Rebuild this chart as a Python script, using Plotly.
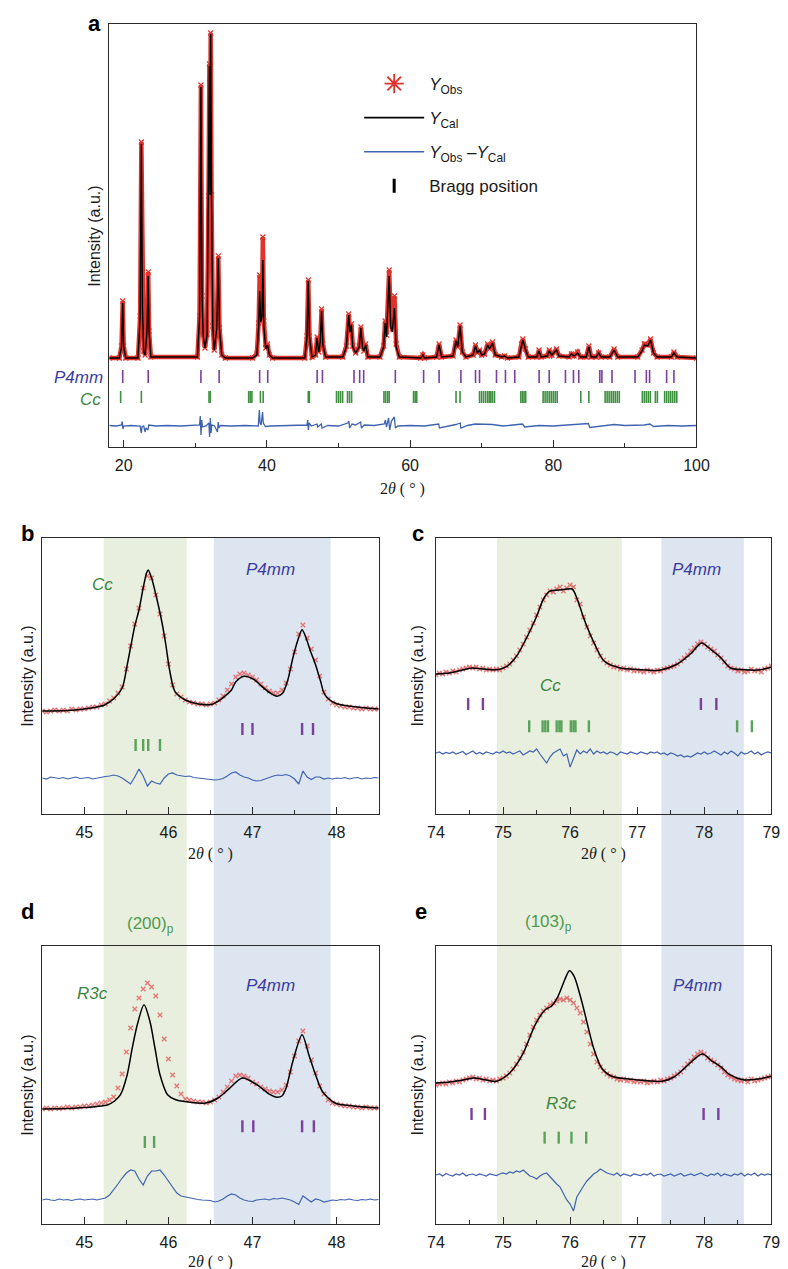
import plotly.graph_objects as go

W, H = 788, 1269
def fx(px): return px / W
def fy(py): return 1 - py / H

RED = '#e0332c'
OBS_B = 'rgba(228,88,88,0.8)'
BLUE = '#3f63b0'
PURPLE = '#7b3f9e'
GREEN = '#3f9040'
GREEN_T = '#5aa35a'
TXT_BLUE = '#3b3b9f'
TXT_GREEN = '#3c853c'
BAND_G = '#e9efdf'
BAND_B = '#dde5f0'
FONT = 'Liberation Sans, Arial, sans-serif'
SERIF = 'Liberation Serif, Times New Roman, serif'

# ---------------- panel a ----------------
a_x = [18.0, 19.4, 19.7, 19.87, 20.0, 20.3, 22.0, 22.3, 22.47, 22.62, 22.8, 23.0, 23.25, 23.43, 23.55, 23.8,
       30.3, 30.6, 30.79, 30.95, 31.1, 31.35, 31.65, 31.85, 31.97, 32.06, 32.15, 32.27, 32.45, 32.65, 33.0,
       33.22, 33.38, 33.7, 34.2, 38.0, 38.6, 38.85, 38.99, 39.15, 39.32, 39.44, 39.58, 39.85, 40.1, 40.35,
       40.8, 45.3, 45.6, 45.78, 45.95, 46.3, 46.8, 47.02, 47.25, 47.45, 47.64, 47.82, 48.2, 50.6, 51.1,
       51.43, 51.6, 51.8, 52.0, 52.4, 52.9, 53.13, 53.35, 53.55, 53.8, 54.1, 55.8, 56.3, 56.52, 56.7, 57.08,
       57.3, 57.5, 57.82, 58.05, 58.5, 61.5, 61.78, 62.0, 63.7, 64.05, 64.4, 66.0, 66.42, 66.65, 66.98, 67.3,
       67.8, 68.8, 69.14, 69.4, 69.7, 70.0, 70.4, 70.83, 71.1, 71.51, 71.9, 72.8, 73.2, 73.6, 75.2, 75.55,
       75.75, 76.1, 76.5, 77.7, 78.01, 78.3, 79.15, 79.43, 79.8, 80.45, 80.8, 82.2, 82.54, 82.9, 83.4, 83.8,
       84.6, 84.97, 85.3, 86.0, 86.33, 86.7, 87.9, 88.49, 89.0, 91.8, 92.4, 92.73, 93.2, 93.58, 94.0, 94.5,
       96.5, 96.85, 97.3, 100.0]
a_calc = [89, 89, 100, 144, 100, 89, 89, 130, 303, 140, 95, 92, 115, 171, 115, 90,
          90, 130, 360, 150, 112, 99, 112, 250, 381, 252, 413, 250, 120, 97, 118,
          189, 118, 92, 89, 89, 92, 120, 156, 125, 130, 187, 120, 98, 102, 92,
          89, 89, 110, 166, 110, 90, 92, 109, 95, 105, 136, 102, 90, 90, 100,
          132, 115, 122, 100, 94, 100, 119, 100, 96, 102, 90, 90, 100, 124, 110, 171,
          120, 115, 139, 100, 90, 89, 92, 89, 90, 102, 90, 91, 106, 100, 121, 95,
          90, 92, 101, 94, 97, 92, 93, 102, 98, 104, 92, 90, 91, 89, 90, 102,
          107, 98, 90, 90, 96, 90, 91, 96, 92, 97, 91, 90, 93, 91, 94, 90,
          90, 100, 90, 90, 94, 90, 90, 97, 90, 90, 96, 102, 101, 107, 94, 90,
          90, 94, 90, 89]
a_obs = [89, 89, 101, 146, 101, 89, 89, 131, 305, 142, 96, 92, 116, 175, 116, 90,
         90, 131, 362, 151, 113, 99, 113, 251, 383, 253, 414, 252, 121, 97, 119,
         191, 119, 92, 89, 89, 93, 124, 172, 130, 140, 210, 126, 99, 103, 92,
         89, 89, 111, 167, 111, 90, 92, 110, 95, 106, 138, 103, 90, 90, 101,
         133, 116, 123, 101, 94, 101, 120, 101, 96, 103, 90, 90, 101, 126, 112, 177,
         126, 118, 151, 103, 90, 89, 92, 89, 90, 103, 90, 91, 107, 100, 122, 95,
         90, 92, 102, 94, 97, 92, 93, 103, 98, 105, 92, 90, 91, 89, 90, 103,
         108, 98, 90, 90, 97, 90, 91, 97, 92, 98, 91, 90, 93, 91, 95, 90,
         90, 101, 90, 90, 94, 90, 90, 98, 90, 90, 97, 103, 102, 108, 94, 90,
         90, 95, 90, 89]
a_diff_x = [18.0, 19.0, 19.7, 19.8, 19.9, 20.0, 21.0, 22.3, 22.4, 22.47, 22.55, 22.8, 23.0, 23.1, 23.4, 23.5,
            24.5, 26.0, 28.0, 30.0, 30.6, 30.7, 30.8, 30.9, 31.0, 31.5, 31.9, 32.0, 32.1, 32.2, 32.3, 32.7,
            33.1, 33.2, 33.3, 33.5, 35.0, 37.0, 38.8, 38.95, 39.05, 39.2, 39.4, 39.5, 39.8, 40.5, 43.0, 45.6,
            45.7, 45.8, 45.9, 46.2, 47.0, 47.1, 47.6, 47.7, 48.5, 50.0, 51.3, 51.45, 51.55, 51.9, 52.4, 53.1,
            53.2, 53.6, 55.0, 56.4, 56.55, 56.7, 57.0, 57.15, 57.4, 57.8, 57.95, 58.3, 60.0, 62.0, 64.0, 64.1,
            66.4, 67.0, 67.1, 68.0, 69.1, 71.5, 73.0, 75.7, 76.0, 78.0, 80.0, 82.0, 84.9, 85.1, 86.5, 88.5,
            90.0, 92.7, 93.5, 94.0, 96.0, 98.0, 100.0]
a_diff = [21.5, 21, 22, 25.5, 18, 21, 21.5, 21, 16, 14, 20, 21, 15, 19, 17, 22,
          21, 21.5, 21, 21.5, 22, 31, 12, 27, 20, 21, 24, 10, 29, 14, 22, 21,
          15, 25, 19, 21.5, 21, 21.5, 21, 37, 24, 22, 35, 24, 20.5, 21, 21.5, 22,
          27, 17, 24, 21, 23, 20, 23, 19, 21.5, 21, 24, 26, 19, 23, 22, 25,
          19, 22, 21.5, 23, 27, 20, 29, 17, 26, 30, 19, 21, 21.5, 21, 23, 19,
          22.5, 24, 19, 21.5, 23, 22.5, 21, 23, 20, 21.5, 21, 22, 23.5, 19.5, 21, 22.5,
          21.5, 22, 23, 20.5, 21.5, 21, 21.5]
a_p4mm = [19.87, 23.43, 30.79, 33.33, 38.99, 40.12, 47.02, 47.76, 52.17, 52.96, 53.52, 57.94, 61.89,
          64.05, 67.1, 69.14, 69.7, 72.07, 73.32, 74.62, 78.02, 79.43, 81.7, 82.82, 83.56, 86.5, 86.79,
          88.2, 91.42, 93.0, 93.45, 95.83, 96.85]
a_cc = [19.58, 22.47, 31.92, 32.09, 37.46, 37.68, 37.91, 39.1, 39.49, 45.78, 45.94, 49.73, 50.01, 50.29,
        50.58, 51.26, 51.54, 51.83, 56.35, 56.58, 56.86, 57.08, 60.48, 60.71, 60.93, 66.42, 66.98, 69.7,
        69.98, 70.26, 70.55, 70.83, 71.06, 71.28, 71.51, 71.79, 75.47, 75.7, 75.92, 76.15, 78.58, 78.86,
        79.14, 79.43, 79.71, 79.99, 80.27, 80.55, 83.84, 84.97, 87.24, 87.52, 87.8, 88.09, 88.37, 88.65,
        88.94, 89.22, 92.44, 92.72, 93.0, 93.28, 93.56, 94.26, 94.54, 95.55, 95.83, 96.12, 96.4, 96.68,
        96.97, 97.25]
a_p4mm_level, a_cc_level = 70.5, 50

# ---------------- panel b ----------------
b_scan_start, b_scan_step = 44.5, 0.05
b_obs = [103, 102, 103, 104, 103, 104, 103, 105, 104, 105, 105, 106, 107, 107, 109, 110, 113, 116, 121,
         127, 145, 168, 190, 206, 226, 238, 236, 219, 200, 178, 150, 129, 120, 117, 114, 112, 111, 110,
         110, 109, 110, 111, 114, 118, 124, 130, 137, 140, 141, 139, 137, 134, 130, 126, 123, 121, 121,
         124, 131, 145, 162, 180, 189, 176, 165, 154, 138, 122, 115, 111, 109, 108, 107, 107, 106, 106,
         105, 106, 105, 105, 105]
b_calc_x = [44.5, 44.8, 45.0, 45.15, 45.24, 45.36, 45.45, 45.51, 45.56, 45.60, 45.65, 45.70, 45.74, 45.76,
            45.80, 45.86, 45.92, 45.97, 46.01, 46.06, 46.09, 46.2, 46.36, 46.51, 46.59, 46.67, 46.75, 46.80,
            46.9, 47.02, 47.11, 47.21, 47.29, 47.36, 47.42, 47.48, 47.54, 47.59, 47.63, 47.69, 47.75, 47.81,
            47.86, 47.98, 48.17, 48.5]
b_calc = [103, 103.5, 105, 107, 109, 116, 126, 149, 171, 188, 204, 226, 241, 244, 236, 216, 193, 169, 146,
          126, 121, 114, 110, 109.5, 112.7, 117.7, 124, 132, 137.7, 134.3, 127.7, 121, 117.7, 121, 134,
          156, 174, 184.3, 177.7, 162.7, 149.3, 132.7, 119.3, 111, 107.7, 105]
b_diff = [36, 35, 37, 36, 35.5, 36.5, 35, 36, 37, 35.5, 36, 36.5, 35, 36, 37, 37.5, 38, 39, 38, 36, 33,
          30, 37, 45, 38, 28, 33, 31, 30, 36, 40, 41, 39, 38.5, 37.5, 38, 36.5, 36, 35.5, 35, 34.5, 34,
          34.5, 35.5, 38, 41, 42, 39, 37, 36, 34, 33, 33.5, 35, 37, 38, 39, 38.5, 39.5, 38, 35, 30, 43,
          37, 34.5, 37, 37, 35, 36, 35, 36, 35.5, 36.5, 35, 36, 36.5, 35, 36, 35.5, 36.5, 36]
b_p4mm = [46.88, 47.0, 47.59, 47.72]
b_cc = [45.61, 45.70, 45.76, 45.90]
b_p4mm_level, b_cc_level = 85, 69

# ---------------- panel c ----------------
c_scan_start, c_scan_step = 74.0, 0.05
c_obs = [139, 141, 140, 142, 141, 143, 142, 144, 145, 146, 147, 146, 147, 145, 146, 144, 145, 144, 145,
         144, 146, 148, 150, 154, 158, 164, 170, 177, 184, 191, 199, 207, 214, 219, 223, 222, 225, 227,
         223, 226, 229, 227, 214, 210, 197, 187, 178, 171, 164, 158, 154, 151, 149, 147, 147, 145, 146,
         144, 145, 143, 144, 143, 142, 144, 143, 142, 144, 143, 145, 146, 147, 148, 150, 153, 156, 159,
         163, 166, 170, 172, 170, 167, 165, 163, 159, 156, 152, 148, 146, 145, 143, 144, 142, 143, 145,
         143, 144, 142, 145, 146, 148]
c_calc_x = [74.0, 74.2, 74.4, 74.53, 74.7, 74.91, 75.06, 75.2, 75.35, 75.49, 75.61, 75.69, 75.88, 76.03,
            76.1, 76.22, 76.37, 76.51, 76.75, 77.0, 77.33, 77.6, 77.81, 77.96, 78.1, 78.25, 78.39, 78.59,
            78.8, 79.0]
c_calc = [140, 141, 144, 146, 145, 144.3, 147.7, 157.7, 176, 196, 216, 222.7, 224.3, 225, 216, 192.7,
          169.3, 152.7, 146, 144.5, 143.7, 150, 161, 171, 164.3, 156, 146, 144.3, 144, 146.7]
c_diff = [61, 62, 60, 61.5, 60.5, 62, 60, 61, 62.5, 59.5, 61, 63, 60, 61.5, 60, 62, 61, 60, 62, 61, 63,
          61, 62, 60, 61.5, 63, 59, 61, 63, 62, 65, 60, 56, 51, 57, 61, 63, 65, 58, 60, 47, 55, 64, 60,
          63, 61, 65, 60, 63, 61, 62, 60, 62, 61, 59, 62, 61, 60, 62, 61, 60, 62, 61, 60, 62, 61, 62, 60,
          61, 59, 61, 60, 58, 59, 57, 58, 57, 59, 61, 60, 62, 60, 61, 63, 61, 59, 62, 60, 63, 61, 58, 62,
          60, 61, 63, 60, 62, 59, 61, 62, 61]
c_p4mm = [74.48, 74.70, 77.95, 78.18]
c_cc = [75.39, 75.59, 75.63, 75.67, 75.80, 75.84, 75.87, 76.01, 76.05, 76.08, 76.28, 78.49, 78.71]
c_p4mm_level, c_cc_level = 110, 87.7

# ---------------- panel d ----------------
d_scan_start, d_scan_step = 44.5, 0.05
d_obs = [115, 116, 115, 116, 115.5, 116, 117, 116, 117, 117, 118, 118, 119, 120, 121, 122, 124, 127,
         136, 150, 172, 196, 215, 226, 235, 241, 237, 228, 209, 185, 165, 149, 138, 130, 125, 124, 123,
         122, 122, 121, 122, 124, 127, 132, 137, 143, 148, 149, 148, 146, 142, 140, 137, 135, 133, 132,
         132, 134, 139, 152, 168, 183, 193, 178, 164, 151, 138, 130, 124, 121, 120, 119, 118, 118, 117,
         117, 116, 117, 116, 116, 116]
d_calc_x = [44.5, 44.8, 45.0, 45.15, 45.28, 45.36, 45.43, 45.51, 45.57, 45.63, 45.71, 45.78, 45.84, 45.90,
            45.99, 46.08, 46.17, 46.44, 46.59, 46.71, 46.88, 47.05, 47.21, 47.29, 47.35, 47.40, 47.48,
            47.59, 47.67, 47.75, 47.83, 47.98, 48.2, 48.5]
d_calc = [115, 115.5, 116.5, 117.5, 119.3, 123, 129.3, 149.3, 176, 199.3, 219.3, 202.7, 176, 149.3,
          129.3, 124.5, 122.7, 121, 126, 134.3, 146, 139.3, 129.3, 126.7, 128, 136, 162.7, 189.3, 169.3,
          149.3, 132.7, 121, 118, 116]
d_diff = [24, 25, 24, 23.5, 25, 24, 24.5, 23.5, 24.5, 25, 24, 24.5, 25, 24, 25, 26, 29, 34, 40, 46, 51,
          54, 53, 45, 39, 48, 53, 53, 54, 49, 43, 37, 31, 28, 27, 26, 25, 24.5, 24, 24, 23.5, 22, 23, 25,
          28, 30, 29, 26, 24, 23, 22.5, 24, 24.5, 25, 24, 25.5, 25, 26, 25, 24, 22, 19.5, 28, 25, 22, 25,
          24, 22, 23, 24, 23.5, 24.5, 24, 25, 24, 23.5, 24.5, 24, 25, 24, 24.5]
d_p4mm = [46.88, 47.01, 47.59, 47.73]
d_r3c = [45.72, 45.83]
d_p4mm_level, d_r3c_level = 97.7, 82

# ---------------- panel e ----------------
e_scan_start, e_scan_step = 74.0, 0.05
e_obs = [139, 140, 141, 140, 142, 141, 143, 142, 144, 145, 146, 147, 145, 146, 144, 145, 143, 144, 143,
         145, 146, 148, 151, 155, 160, 166, 172, 180, 189, 197, 204, 209, 213, 216, 219, 221, 223, 225,
         224, 226, 224, 221, 216, 211, 202, 192, 180, 170, 162, 157, 153, 150, 148, 147, 145, 144, 145,
         143, 144, 142, 143, 142, 143, 141, 142, 143, 142, 144, 143, 145, 146, 148, 150, 152, 156, 160,
         163, 167, 170, 172, 170, 166, 164, 162, 159, 156, 152, 149, 147, 145, 144, 143, 144, 142, 145,
         143, 144, 145, 146, 147, 148]
e_calc_x = [74.0, 74.2, 74.4, 74.57, 74.75, 74.9, 75.1, 75.29, 75.48, 75.63, 75.72, 75.82, 75.92, 75.99,
            76.06, 76.16, 76.26, 76.35, 76.47, 76.62, 76.98, 77.37, 77.55, 77.71, 77.97, 78.12, 78.24,
            78.38, 78.58, 78.8, 79.0]
e_calc = [141, 142, 144, 146, 144, 142.7, 151, 169.3, 199.3, 214.3, 217.7, 227.7, 244.3, 253.3, 247.7,
          226, 199.3, 176, 156, 147.7, 144.3, 142.7, 147, 156, 170, 162.7, 157.7, 149.3, 144.3, 145, 147.7]
e_diff = [49, 50, 48, 50.5, 49, 48, 50, 49, 51, 48, 49.5, 50, 48.5, 50, 49, 48, 50, 49, 48.5, 50, 51, 50,
          52, 51, 53, 52, 54, 51, 48, 47, 45, 48, 50, 51, 47, 44, 40, 37, 30, 24, 20, 13, 27, 33, 38, 43,
          46, 50, 52, 55, 53, 51, 50, 49, 51, 48, 50, 49, 48, 50, 49, 48.5, 50, 49, 51, 48, 49.5, 50, 48,
          49, 50, 48, 49, 50.5, 48, 49, 50, 48.5, 50, 51, 49, 48, 50, 49, 51, 48, 50, 49, 48, 50, 49, 51,
          48, 50, 49, 51, 48, 50, 49, 50, 49]
e_p4mm = [74.53, 74.73, 77.99, 78.21]
e_r3c = [75.62, 75.83, 76.02, 76.24]
e_p4mm_level, e_r3c_level = 110, 86.3

# band limits (2theta)
bd_green, bd_blue = [45.23, 46.22], [46.54, 47.93]
ce_green, ce_blue = [74.91, 76.77], [77.36, 78.59]


def scan(start, step, vals):
    return [round(start + i * step, 3) for i in range(len(vals))]


fig = go.Figure()

# panel a traces
fig.add_trace(go.Scatter(x=a_x, y=a_obs, mode='lines+markers', line=dict(color=RED, width=4.5),
                         marker=dict(symbol='x-thin-open', size=5, color=RED, line=dict(color=RED, width=1.2)),
                         showlegend=False, xaxis='x', yaxis='y'))
fig.add_trace(go.Scatter(x=a_x, y=a_calc, mode='lines', line=dict(color='black', width=1.4),
                         showlegend=False, xaxis='x', yaxis='y'))
fig.add_trace(go.Scatter(x=a_diff_x, y=a_diff, mode='lines', line=dict(color=BLUE, width=1.3),
                         showlegend=False, xaxis='x', yaxis='y'))
fig.add_trace(go.Scatter(x=a_p4mm, y=[a_p4mm_level] * len(a_p4mm), mode='markers',
                         marker=dict(symbol='line-ns', size=13 / 1.4, color=PURPLE,
                                     line=dict(color=PURPLE, width=1.6)),
                         showlegend=False, xaxis='x', yaxis='y'))
fig.add_trace(go.Scatter(x=a_cc, y=[a_cc_level] * len(a_cc), mode='markers',
                         marker=dict(symbol='line-ns', size=12 / 1.4, color=GREEN,
                                     line=dict(color=GREEN, width=1.6)),
                         showlegend=False, xaxis='x', yaxis='y'))

# legend entries
fig.add_trace(go.Scatter(x=[None], y=[None], mode='markers', name='<i>Y</i><sub>Obs</sub>',
                         marker=dict(symbol='asterisk-open', size=16, color=RED, line=dict(color=RED, width=1.8)),
                         legendgroup='g1', xaxis='x', yaxis='y'))
fig.add_trace(go.Scatter(x=[None], y=[None], mode='lines', name='<i>Y</i><sub>Cal</sub>',
                         line=dict(color='black', width=1.6), legendgroup='g2', xaxis='x', yaxis='y'))
fig.add_trace(go.Scatter(x=[None], y=[None], mode='lines',
                         name='<i>Y</i><sub>Obs</sub> \u2013<i>Y</i><sub>Cal</sub>',
                         line=dict(color=BLUE, width=1.6), legendgroup='g3', xaxis='x', yaxis='y'))
fig.add_trace(go.Scatter(x=[None], y=[None], mode='markers', name='Bragg position',
                         marker=dict(symbol='line-ns', size=10, color='black', line=dict(color='black', width=3)),
                         legendgroup='g4', xaxis='x', yaxis='y'))


def zoom_panel(ax, ay, sx0, step, obs, cx, calc, diff, t1, l1, c1, t2, l2, c2):
    xs = scan(sx0, step, obs)
    fig.add_trace(go.Scatter(x=xs, y=obs, mode='markers',
                             marker=dict(symbol='x-thin-open', size=4.5, color=OBS_B,
                                         line=dict(color=OBS_B, width=1.3)),
                             showlegend=False, xaxis=ax, yaxis=ay))
    fig.add_trace(go.Scatter(x=cx, y=calc, mode='lines', line=dict(color='black', width=1.5, shape='spline',
                             smoothing=0.8), showlegend=False, xaxis=ax, yaxis=ay))
    fig.add_trace(go.Scatter(x=scan(sx0, step, diff), y=diff, mode='lines', line=dict(color=BLUE, width=1.2),
                             showlegend=False, xaxis=ax, yaxis=ay))
    for t, l, c in [(t1, l1, c1), (t2, l2, c2)]:
        fig.add_trace(go.Scatter(x=t, y=[l] * len(t), mode='markers',
                                 marker=dict(symbol='line-ns', size=12 / 1.4, color=c, line=dict(color=c, width=2.4)),
                                 showlegend=False, xaxis=ax, yaxis=ay))


zoom_panel('x2', 'y2', b_scan_start, b_scan_step, b_obs, b_calc_x, b_calc, b_diff,
           b_p4mm, b_p4mm_level, PURPLE, b_cc, b_cc_level, GREEN_T)
zoom_panel('x3', 'y3', c_scan_start, c_scan_step, c_obs, c_calc_x, c_calc, c_diff,
           c_p4mm, c_p4mm_level, PURPLE, c_cc, c_cc_level, GREEN_T)
zoom_panel('x4', 'y4', d_scan_start, d_scan_step, d_obs, d_calc_x, d_calc, d_diff,
           d_p4mm, d_p4mm_level, PURPLE, d_r3c, d_r3c_level, GREEN_T)
zoom_panel('x5', 'y5', e_scan_start, e_scan_step, e_obs, e_calc_x, e_calc, e_diff,
           e_p4mm, e_p4mm_level, PURPLE, e_r3c, e_r3c_level, GREEN_T)

# ---------- axes ----------
LINE = '#2a2a2a'


def xax(l, r, t, b, rng, dtick, mdtick, anchor):
    return dict(domain=[fx(l), fx(r)], range=rng, anchor=anchor, showline=True, mirror=True,
                linecolor=LINE, linewidth=1.4, ticks='inside', ticklen=7, tickwidth=1.4, tickcolor=LINE,
                dtick=dtick, tick0=0, showgrid=False, zeroline=False, ticklabelstandoff=4,
                tickfont=dict(family=FONT, size=16, color='#1a1a1a'),
                minor=dict(ticks='inside', ticklen=4, tickwidth=1.3, tickcolor=LINE, dtick=mdtick, tick0=0,
                           showgrid=False))


def yax(t, b, rng, anchor):
    return dict(domain=[fy(b), fy(t)], range=rng, anchor=anchor, showline=True, mirror=True,
                linecolor=LINE, linewidth=1.4, ticks='', showticklabels=False, showgrid=False,
                zeroline=False)


PA = (95, 699, 16, 439)
PB = (26, 372, 530, 806)
PC = (431, 776, 530, 806)
PD = (26, 372, 938, 1216)
PE = (431, 776, 938, 1216)

layout = dict(width=W, height=H, autosize=False, margin=dict(l=0, r=0, t=0, b=0),
              paper_bgcolor='white', plot_bgcolor='rgba(0,0,0,0)',
              font=dict(family=FONT, size=16, color='#1a1a1a'))
layout['xaxis'] = xax(PA[0], PA[1], PA[2], PA[3], [18, 100], 20, 10, 'y')
layout['yaxis'] = yax(PA[2], PA[3], [0, PA[3] - PA[2]], 'x')
for i, (P, rng) in enumerate([(PB, [44.5, 48.5]), (PC, [74, 79]), (PD, [44.5, 48.5]), (PE, [74, 79])], start=2):
    layout['xaxis%d' % i] = xax(P[0], P[1], P[2], P[3], rng, 1, 0.5, 'y%d' % i)
    layout['yaxis%d' % i] = yax(P[2], P[3], [0, P[3] - P[2]], 'x%d' % i)

layout['legend'] = dict(x=fx(352), y=fy(58), xanchor='left', yanchor='top', bgcolor='rgba(0,0,0,0)',
                        font=dict(family=FONT, size=17, color='#1a1a1a'), traceorder='grouped',
                        tracegroupgap=9, itemwidth=60)

shapes = []
for ref, (g0, g1), (b0, b1) in [('x2', bd_green, bd_blue), ('x3', ce_green, ce_blue)]:
    for (v0, v1), col in [((g0, g1), BAND_G), ((b0, b1), BAND_B)]:
        shapes.append(dict(type='rect', xref=ref, yref='paper', x0=v0, x1=v1, y0=fy(1216), y1=fy(530),
                           fillcolor=col, line=dict(width=0), layer='below'))
layout['shapes'] = shapes

ann = []


def txt(x, y, s, size=16, color='#1a1a1a', family=FONT, xref='paper', yref='paper', xanchor='center',
        angle=0):
    ann.append(dict(x=x, y=y, xref=xref, yref=yref, text=s, showarrow=False, xanchor=xanchor,
                    yanchor='middle', textangle=angle, font=dict(size=size, color=color, family=family)))


# panel letters
for lab, px, py in [('a', 80, 15), ('b', 11, 525), ('c', 413, 526), ('d', 11, 903), ('e', 416, 903)]:
    txt(fx(px), fy(py), '<b>%s</b>' % lab, size=22, color='black')
# y titles
for px, py in [(79, 228), (10, 668), (411, 668), (10, 1077), (411, 1077)]:
    txt(fx(px), fy(py), 'Intensity (a.u.)', size=16, angle=-90)
# x titles
for px, py in [(397, 481), (199, 846), (603, 846), (199, 1254), (603, 1254)]:
    txt(fx(px), fy(py), '2<i>\u03b8</i> ( \u00b0 )', size=16, family=SERIF)
# phase labels panel a
txt(fx(91), fy(370), '<i>P4mm</i>', size=17, color=TXT_BLUE, xanchor='right')
txt(fx(88), fy(391), '<i>Cc</i>', size=17, color=TXT_GREEN, xanchor='right')
# panel labels b-e (data coords)
txt(45.22, 229, '<i>Cc</i>', size=17, color=TXT_GREEN, xref='x2', yref='y2')
txt(47.21, 244, '<i>P4mm</i>', size=17, color=TXT_BLUE, xref='x2', yref='y2')
txt(77.88, 244, '<i>P4mm</i>', size=17, color=TXT_BLUE, xref='x3', yref='y3')
txt(75.71, 128, '<i>Cc</i>', size=17, color=TXT_GREEN, xref='x3', yref='y3')
txt(45.1, 231, '<i>R3c</i>', size=17, color=TXT_GREEN, xref='x4', yref='y4')
txt(47.21, 239, '<i>P4mm</i>', size=17, color=TXT_BLUE, xref='x4', yref='y4')
txt(77.9, 239, '<i>P4mm</i>', size=17, color=TXT_BLUE, xref='x5', yref='y5')
txt(75.87, 121, '<i>R3c</i>', size=17, color=TXT_GREEN, xref='x5', yref='y5')
txt(fx(137), fy(917), '(200)<sub>p</sub>', size=17, color='#4e9a4e')
txt(fx(547), fy(915), '(103)<sub>p</sub>', size=17, color='#4e9a4e')
layout['annotations'] = ann

fig.update_layout(**layout)
fig.write_html('out.html')
